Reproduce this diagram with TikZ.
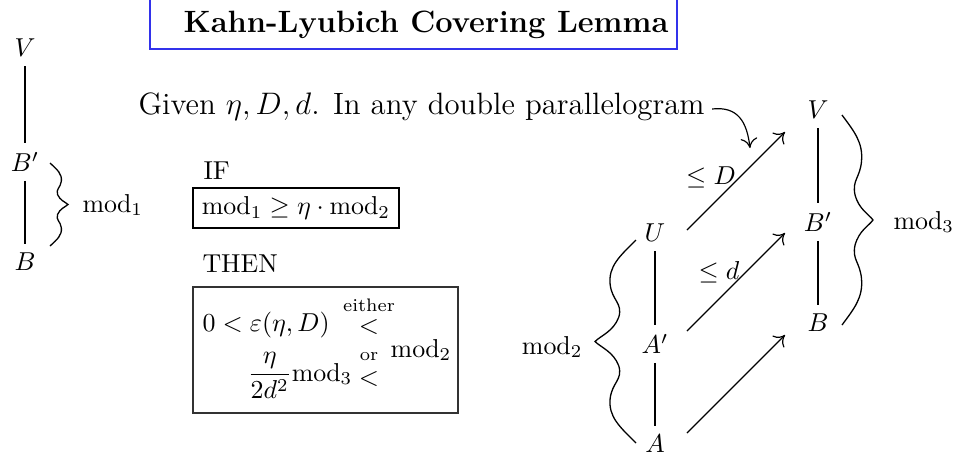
\documentclass[tikz,border=0pt]{standalone}
\usepackage{amsmath}
\usepackage{fontspec}
\usetikzlibrary{calc,arrows.meta}
\definecolor{titleblue}{RGB}{50,50,235}
\begin{document}
\begin{tikzpicture}[x=0.386pt,y=-0.386pt,
  lbl/.style={inner sep=3.33pt},
  txt/.style={inner sep=0pt},
  seg/.style={line width=0.5pt},
  arr/.style={line width=0.45pt,-{To[length=3.8pt,width=6.4pt]}},
  wbrace/.pic={\draw[line width=0.5pt]
     (0,-1) .. controls (0.4,-0.84) and (0.68,-0.74) .. (0.63,-0.56)
     .. controls (0.58,-0.4) and (0.32,-0.38) .. (0.42,-0.24)
     .. controls (0.55,-0.1) and (0.85,-0.06) .. (1,0)
     .. controls (0.85,0.06) and (0.55,0.1) .. (0.42,0.24)
     .. controls (0.32,0.38) and (0.58,0.4) .. (0.63,0.56)
     .. controls (0.68,0.74) and (0.4,0.84) .. (0,1);}
]
\useasboundingbox (0,0) rectangle (958,462);

% title
\draw[titleblue,line width=0.5pt] (150,-10) rectangle (677,49);
\node[txt,font=\fontsize{11.9}{14}\selectfont\bfseries] (title) at (426,25) {Kahn-Lyubich Covering Lemma};

% left column
\node[lbl] (lV) at (25,48) {$V$};
\node[lbl] (lBp) at (25,162) {$B'$};
\node[lbl] (lB) at (25,262) {$B$};
\draw[seg] (lV) -- (lBp);
\draw[seg] (lBp) -- (lB);
\pic[xscale=18,yscale=41.5] at (50,204.5) {wbrace};
\node[txt,anchor=west] (m1) at (82,205) {$\mathrm{mod}_1$};

% given text
\node[txt,anchor=west,font=\fontsize{11.9}{14}\selectfont] (given) at (138,107) {Given $\eta, D, d$. In any double parallelogram};

% IF / THEN
\node[txt,anchor=west] (if) at (203,171) {IF};
\node[draw,line width=0.9pt,minimum width=79.5pt,minimum height=15.4pt,inner sep=0pt] (ifbox) at (296,208) {$\mathrm{mod}_1\geq\eta\cdot\mathrm{mod}_2$};
\node[txt,anchor=west] (then) at (202,264) {THEN};
\node[draw,black!80,line width=0.5pt,minimum width=102.3pt,minimum height=48.6pt,inner sep=0pt] (thenbox) at (325.5,350) {};
\node[txt,anchor=west] (l1) at (202,325) {$0<\varepsilon(\eta,D)$};
\node[txt,font=\fontsize{7}{8}\selectfont] (either) at (369,305) {either};
\node[txt] (lt1) at (369,327) {$<$};
\node[txt,anchor=base west] (l2) at (247,381) {$\dfrac{\eta}{2d^2}\mathrm{mod}_3$};
\node[txt,font=\fontsize{7}{8}\selectfont] (or) at (369,357) {or};
\node[txt] (lt2) at (369,379) {$<$};
\node[txt] (m2box) at (421,350) {$\mathrm{mod}_2$};

% right diagram
\node[lbl] (V) at (818,110) {$V$};
\node[lbl] (Bp) at (818,222) {$B'$};
\node[lbl] (B) at (818,323) {$B$};
\node[lbl] (U) at (655,233) {$U$};
\node[lbl] (Ap) at (655,344) {$A'$};
\node[lbl] (A) at (655,444) {$A$};
\draw[seg] (V) -- (Bp);
\draw[seg] (Bp) -- (B);
\draw[seg] (U) -- (Ap);
\draw[seg] (Ap) -- (A);
\draw[arr] ($(U)+(32,-3)$) -- ($(V)+(-33,22)$);
\draw[arr] ($(Ap)+(32,-13)$) -- ($(Bp)+(-33,11)$);
\draw[arr] ($(A)+(32,-11)$) -- ($(B)+(-33,12)$);
\node[txt] (leD) at (711,177) {$\leq D$};
\node[txt] (led) at (719,272) {$\leq d$};
\coordinate (ptip) at (750,148);
\draw[arr] ($(given.east)+(7,2)$) .. controls (738,106) and (747,122) .. (ptip);

\pic[xscale=31,yscale=105] at (842,220) {wbrace};
\node[txt,anchor=west] (m3) at (893,222) {$\mathrm{mod}_3$};
\pic[xscale=-41,yscale=101.5] at (636,341.5) {wbrace};
\node[txt,anchor=east] (m2) at (583,347) {$\mathrm{mod}_2$};
\end{tikzpicture}
\end{document}
